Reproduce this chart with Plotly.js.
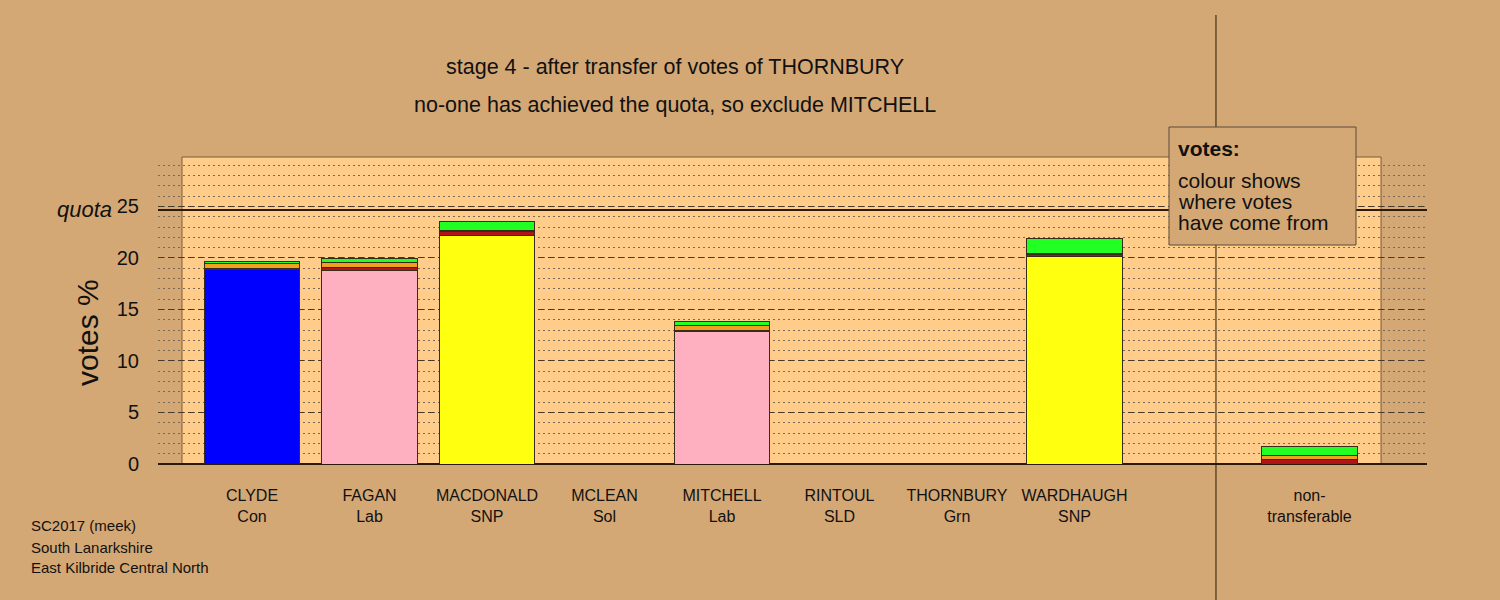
<!DOCTYPE html>
<html>
<head>
<meta charset="utf-8">
<script src="https://cdn.plot.ly/plotly-3.0.1.min.js"></script>
<style>html,body{margin:0;padding:0;background:#D4A875;}#chart{width:1500px;height:600px;}</style>
</head>
<body>
<div id="chart"></div>
<script>
// ---- data ----
const candidates = ["CLYDE", "FAGAN", "MACDONALD", "MCLEAN", "MITCHELL", "RINTOUL", "THORNBURY", "WARDHAUGH", " ", "non-"];
const parties    = ["Con", "Lab", "SNP", "Sol", "Lab", "SLD", "Grn", "SNP", "", "transferable"];
const ownVotes   = [18.9, 18.77, 22.2, 0, 12.9, 0, 0, 20.1, 0, 0];
const fromSol    = [0.05, 0.33, 0.38, 0, 0.08, 0, 0, 0.2, 0, 0.42];
const fromSLD    = [0.5, 0.48, 0.07, 0, 0.45, 0, 0, 0.15, 0, 0.45];
const fromGrn    = [0.2, 0.32, 0.87, 0, 0.42, 0, 0, 1.4, 0, 0.8];
const quota = 24.66;
const yTicks = [0, 5, 10, 15, 20, 25];

// ---- styling ----
const partyColour = {Con: "#0000FF", Lab: "#FFB0C0", SNP: "#FFFF10", Sol: "#B01414", SLD: "#F0A020", Grn: "#22FF22", "": "#999", transferable: "#999"};
const W = 1500, H = 600, L = 158, R = 73, T = 157, B = 136;
const pw = W - L - R, ph = H - T - B;
const px = x => (x - L) / pw;
const py = y => (H - B - y) / ph;

const labels = candidates.map((c, i) => parties[i] ? c + "<br>" + parties[i] : c);
const outline = {color: "#3a2a1a", width: 1};

const traces = [
  {type: "bar", x: labels, y: ownVotes, marker: {color: parties.map(p => partyColour[p]), line: outline}},
  {type: "bar", x: labels, y: fromSol, marker: {color: partyColour.Sol, line: outline}},
  {type: "bar", x: labels, y: fromSLD, marker: {color: partyColour.SLD, line: outline}},
  {type: "bar", x: labels, y: fromGrn, marker: {color: partyColour.Grn, line: outline}}
];

const font = "Liberation Sans, Arial, sans-serif";
const txt = "#111";
function ann(text, x, y, size, opts) {
  return Object.assign({text: text, x: px(x), y: py(y), xref: "paper", yref: "paper", showarrow: false,
    xanchor: "center", yanchor: "middle", font: {family: font, size: size, color: txt}}, opts || {});
}

const layout = {
  width: W, height: H,
  margin: {l: L, r: R, t: T, b: B, pad: 0},
  paper_bgcolor: "#D4A875",
  plot_bgcolor: "rgba(0,0,0,0)",
  barmode: "stack",
  bargap: 0.19,
  showlegend: false,
  font: {family: font, color: txt},
  xaxis: {
    type: "category", categoryorder: "array", categoryarray: labels,
    range: [-0.8, 10.0], showgrid: false, zeroline: false, showline: false,
    ticks: "outside", ticklen: 17, tickcolor: "rgba(0,0,0,0)",
    tickfont: {family: font, size: 16, color: txt}, fixedrange: true
  },
  yaxis: {
    range: [0, 29.8], tickvals: yTicks, ticktext: yTicks.map(String),
    showgrid: true, gridcolor: "#4a3a2a", gridwidth: 1, griddash: "6px,4px",
    minor: {dtick: 1, tick0: 0, showgrid: true, gridcolor: "#7a6a5a", gridwidth: 1, griddash: "2px,3px"},
    zeroline: true, zerolinecolor: "#2a1a0a", zerolinewidth: 2,
    ticks: "outside", ticklen: 14, tickcolor: "rgba(0,0,0,0)",
    tickfont: {family: font, size: 20, color: txt}, showline: false, fixedrange: true
  },
  shapes: [
    {type: "rect", layer: "below", xref: "x", yref: "paper", x0: -0.596, x1: 9.609, y0: 0, y1: 1,
     fillcolor: "#FFCC8A", line: {color: "#7a5a3a", width: 1}},
    {type: "line", xref: "paper", yref: "y", x0: 0, x1: 1, y0: quota, y1: quota, line: {color: "#2a1a0a", width: 2}},
    {type: "line", xref: "x", yref: "paper", x0: 8.204, x1: 8.204, y0: py(600), y1: py(15), line: {color: "#2a1a0a", width: 1}},
    {type: "rect", xref: "paper", yref: "paper", x0: px(1169), x1: px(1356), y0: py(245), y1: py(127),
     fillcolor: "#D4A875", line: {color: "#5a4a3a", width: 1}}
  ],
  annotations: [
    ann("stage 4 - after transfer of votes of THORNBURY", 675, 67, 21.5),
    ann("no-one has achieved the quota, so exclude MITCHELL", 675, 105, 21.5),
    Object.assign(ann("<i>quota</i>", 114, 0, 22, {xanchor: "right"}), {yref: "y", y: quota}),
    ann("votes %", 87, 333, 30, {textangle: -90}),
    ann("SC2017 (meek)", 29, 525, 15, {xanchor: "left"}),
    ann("South Lanarkshire", 29, 547, 15, {xanchor: "left"}),
    ann("East Kilbride Central North", 29, 567, 15, {xanchor: "left"}),
    ann("<b>votes:</b>", 1176, 148, 21, {xanchor: "left"}),
    ann("colour shows", 1176, 180, 21, {xanchor: "left"}),
    ann("where votes", 1176, 201, 21, {xanchor: "left"}),
    ann("have come from", 1176, 222, 21, {xanchor: "left"})
  ]
};

Plotly.newPlot("chart", traces, layout, {displayModeBar: false, staticPlot: true});
</script>
</body>
</html>
